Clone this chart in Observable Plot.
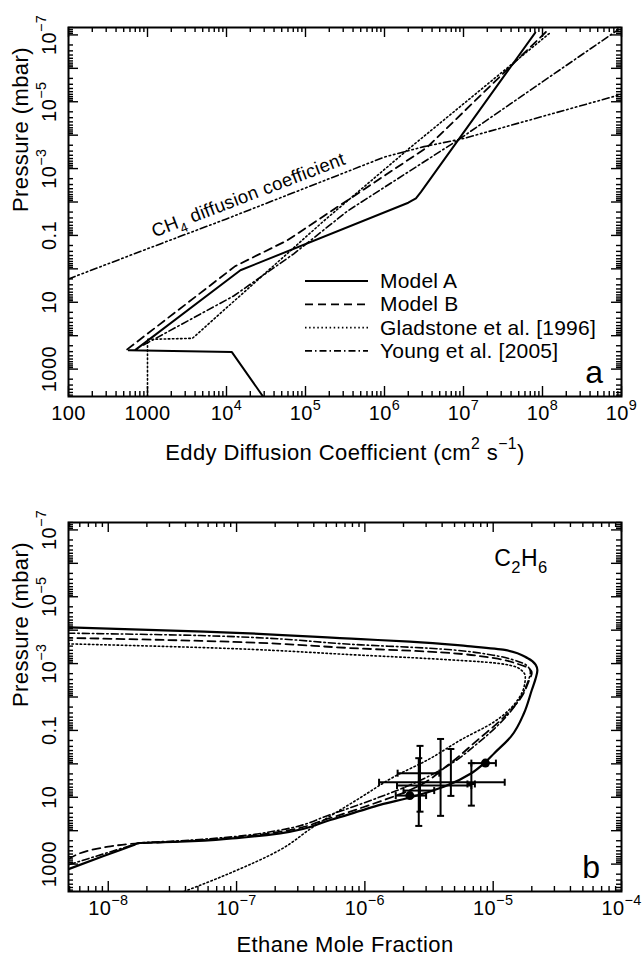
<!DOCTYPE html>
<html>
<head>
<meta charset="utf-8">
<script src="https://cdn.jsdelivr.net/npm/d3@7"></script>
<script src="https://cdn.jsdelivr.net/npm/@observablehq/plot@0.6"></script>
<style>
  html,body{margin:0;padding:0;background:#fff;}
  #chart{width:644px;height:957px;position:relative;overflow:hidden;background:#fff;}
  .panel{position:relative;width:644px;}
  .panel svg{display:block;}
  .overlay{position:absolute;left:0;top:0;pointer-events:none;}
</style>
</head>
<body>
<div id="chart">
  <div class="panel" id="panelA"></div>
  <div class="panel" id="panelB"></div>
</div>
<script>
// ================= DATA =================
// ---- Panel a: eddy diffusion coefficient K (cm^2 s^-1) vs pressure (mbar)
const modelA_K = [2.9e4, 1.17e4, 580, 690, 1.5e4, 2.0e6, 2.5e6, 2.9e6, 8.1e7];
const modelA_P = [6600, 310, 275, 275, 1.1, 0.0105, 0.0078, 0.005, 8.5e-8];

const modelB_K = [553, 1.29e4, 5.9e4, 3.47e6, 1.12e8];
const modelB_P = [257, 0.83, 0.14, 2.3e-4, 7.9e-8];

const glad_K = [1000, 1000, 3700, 1.7e5, 2.14e6, 1.26e8];
const glad_P = [6600, 129, 120, 0.037, 2.3e-4, 8.5e-8];

const young_K = [890, 1.23e4, 7.1e4, 3.4e5, 8.7e6, 8.9e8];
const young_P = [190, 6.5, 0.355, 0.0186, 1.35e-4, 7.2e-8];

const ch4_K = [100, 1e3, 1e4, 1e5, 1e6, 3.16e6, 1e7, 1e8, 1e9];
const ch4_P = [2.0, 0.25, 0.032, 0.0038, 4.5e-4, 2.2e-4, 1.26e-4, 2.75e-5, 6.0e-6];

// ---- Panel b: ethane mole fraction vs pressure (mbar)
const bA_X = [4.9e-9, 9.2e-9, 1.585e-8, 1.74e-8, 3.63e-8, 1e-7, 2.19e-7, 5.37e-7, 9.33e-7, 1.33e-6, 2.29e-6, 4.17e-6, 6.76e-6, 8.51e-6, 1.02e-5, 1.38e-5, 1.74e-5, 2.0e-5, 2.14e-5, 2.21e-5, 2.14e-5, 1.86e-5, 1.23e-5, 6.3e-6, 2.24e-6, 9.3e-7, 5.6e-8, 4.9e-9];
const bA_P = [1410, 575, 267, 234, 214, 166, 120, 47.9, 25.1, 16.6, 10, 4.79, 1.91, 0.955, 0.479, 0.151, 0.0302, 0.00617, 0.00282, 0.00158, 0.00107, 6.9e-4, 3.9e-4, 3.0e-4, 2.19e-4, 1.86e-4, 1.1e-4, 8.3e-5];

const bB_X = [4.9e-9, 1e-8, 1.74e-8, 3.63e-8, 1e-7, 2.19e-7, 5.37e-7, 9.33e-7, 2.57e-6, 4.47e-6, 7.59e-6, 1.23e-5, 1.66e-5, 1.91e-5, 2.0e-5, 1.91e-5, 1.55e-5, 1.02e-5, 3.09e-6, 9.33e-7, 5.25e-8, 4.9e-9];
const bB_P = [708, 302, 240, 209, 158, 107, 41.7, 20.9, 4.79, 1.07, 0.191, 0.038, 0.01, 0.00309, 0.0019, 0.00141, 0.00102, 6.9e-4, 4.37e-4, 3.55e-4, 2.09e-4, 1.7e-4];

const bG_X = [3.9e-8, 8.9e-8, 2.19e-7, 3.98e-7, 9.33e-7, 1.7e-6, 3.09e-6, 5.62e-6, 1.02e-5, 1.55e-5, 1.74e-5, 1.78e-5, 1.66e-5, 1.41e-5, 1e-5, 3.16e-6, 9.33e-7, 5.25e-8, 4.9e-9];
const bG_P = [6600, 1860, 372, 75.9, 10, 2.4, 0.76, 0.19, 0.055, 0.0123, 0.005, 0.00245, 0.00158, 0.00117, 9.5e-4, 7.1e-4, 5.6e-4, 3.3e-4, 2.57e-4];

const bY_X = [4.9e-9, 9.2e-9, 1.585e-8, 1.74e-8, 3.63e-8, 1e-7, 2.19e-7, 5.37e-7, 9.33e-7, 2.29e-6, 4.47e-6, 7.59e-6, 1.12e-5, 1.58e-5, 1.86e-5, 1.95e-5, 1.82e-5, 1.41e-5, 1e-5, 3.16e-6, 9.33e-7, 5.25e-8, 4.9e-9];
const bY_P = [1050, 495, 261, 234, 200, 148, 95.5, 33.1, 15.8, 4.17, 1.12, 0.24, 0.063, 0.0126, 0.00355, 0.00178, 0.00112, 7.6e-4, 5.6e-4, 3.47e-4, 2.75e-4, 1.45e-4, 1.23e-4];

// observations: filled circles (x error only)
const circ_X   = [8.7e-6, 2.24e-6];
const circ_P   = [0.95, 8.9];
const circ_Xlo = [6.76e-6, 1.74e-6];
const circ_Xhi = [1.05e-5, 3.0e-6];

// observations with x and pressure error bars
const obs_X   = [2.63e-6, 2.69e-6, 3.89e-6, 4.68e-6, 6.76e-6];
const obs_P   = [6.3, 1.9, 3.55, 4.47, 4.0];
const obs_Xlo = [2.0e-6, 1.8e-6, 1.29e-6, 1.78e-6, 6.3e-6];
const obs_Xhi = [3.47e-6, 3.8e-6, 1.23e-5, 6.76e-6, 7.2e-6];
const obs_Plo = [0.676, 0.29, 0.18, 0.36, 0.955];
const obs_Phi = [72, 27, 36, 9.1, 17.8];

// ---- axes: ticks and tick labels
const kTicks = [1e2, 1e3, 1e4, 1e5, 1e6, 1e7, 1e8, 1e9];
const kTickLabels = ["100", "1000", "10⁴", "10⁵", "10⁶", "10⁷", "10⁸", "10⁹"];
const pTicks = [1e-7, 1e-5, 1e-3, 0.1, 10, 1000];
const pTickLabels = ["10⁻⁷", "10⁻⁵", "10⁻³", "0.1", "10", "1000"];
const xTicks = [1e-8, 1e-7, 1e-6, 1e-5, 1e-4];
const xTickLabels = ["10⁻⁸", "10⁻⁷", "10⁻⁶", "10⁻⁵", "10⁻⁴"];

const kDomain = [100, 1e9];
const xDomain = [4.9e-9, 1e-4];
const pDomain = [6600, 6.0e-8];

const titleA = "Eddy Diffusion Coefficient (cm² s⁻¹)";
const titleB = "Ethane Mole Fraction";
const titleY = "Pressure (mbar)";
const legendNames = ["Model A", "Model B", "Gladstone et al. [1996]", "Young et al. [2005]"];

// ================= STYLE / LAYOUT =================
const FONT = '"Liberation Sans", Arial, Helvetica, sans-serif';
const W = 644;
const dashes = {A: null, B: "8,5", G: "1.5,2.6", Y: "7,3,1.5,3", CH4: "7,3,1.5,3,1.5,3,1.5,3"};
const MAJOR = 10, MINOR = 5;

function zip(xs, ys, kx, ky) { return xs.map((v, i) => ({[kx]: v, [ky]: ys[i]})); }
function logTicks([a, b]) {
  const lo = Math.min(a, b), hi = Math.max(a, b), out = [];
  for (let e = Math.floor(Math.log10(lo)) - 1; e <= Math.ceil(Math.log10(hi)); e++)
    for (let m = 1; m < 10; m++) {
      const v = +(m + "e" + e);
      if (v >= lo * 0.9999 && v <= hi * 1.0001) out.push({v, major: m === 1});
    }
  return out;
}
function frameTickMarks(xDom, yDom, innerW, innerH) {
  const xt = logTicks(xDom), yt = logTicks(yDom);
  const xMaj = xt.filter(d => d.major), xMin = xt.filter(d => !d.major);
  const yMaj = yt.filter(d => d.major), yMin = yt.filter(d => !d.major);
  const sw = 1.4;
  return [
    Plot.tickX(xMaj, {x: "v", insetTop: innerH - MAJOR, strokeWidth: sw}),
    Plot.tickX(xMin, {x: "v", insetTop: innerH - MINOR, strokeWidth: sw}),
    Plot.tickX(xMaj, {x: "v", insetBottom: innerH - MAJOR, strokeWidth: sw}),
    Plot.tickX(xMin, {x: "v", insetBottom: innerH - MINOR, strokeWidth: sw}),
    Plot.tickY(yMaj, {y: "v", insetRight: innerW - MAJOR, strokeWidth: sw}),
    Plot.tickY(yMin, {y: "v", insetRight: innerW - MINOR, strokeWidth: sw}),
    Plot.tickY(yMaj, {y: "v", insetLeft: innerW - MAJOR, strokeWidth: sw}),
    Plot.tickY(yMin, {y: "v", insetLeft: innerW - MINOR, strokeWidth: sw})
  ];
}
const capV = {draw(ctx, size) { const r = Math.sqrt(size / Math.PI); ctx.moveTo(0, -r); ctx.lineTo(0, r); }};
const capH = {draw(ctx, size) { const r = Math.sqrt(size / Math.PI); ctx.moveTo(-r, 0); ctx.lineTo(r, 0); }};

function lineMark(data, x, y, dash, w, curve = "linear") {
  return Plot.line(data, {x, y, stroke: "black", strokeWidth: w, strokeDasharray: dash, clip: true, curve});
}

// turn unicode super/subscripts into real raised/lowered tspans (text stays text)
const SUP = {"⁰":"0","¹":"1","²":"2","³":"3","⁴":"4","⁵":"5","⁶":"6","⁷":"7","⁸":"8","⁹":"9","⁻":"−"};
const SUB = {"₀":"0","₁":"1","₂":"2","₃":"3","₄":"4","₅":"5","₆":"6","₇":"7","₈":"8","₉":"9"};
function richText(root, supSize = 0.72, supShift = 0.48, subShift = 0.32) {
  root.querySelectorAll("text").forEach(t => {
    if (t.children.length) return;
    const s = t.textContent;
    if (![...s].some(c => SUP[c] || SUB[c])) return;
    const runs = [];
    for (const c of s) {
      const kind = SUP[c] ? "sup" : SUB[c] ? "sub" : "n";
      const ch = SUP[c] || SUB[c] || c;
      if (runs.length && runs[runs.length - 1].kind === kind) runs[runs.length - 1].s += ch;
      else runs.push({kind, s: ch});
    }
    t.textContent = "";
    let shift = 0;
    const ns = "http://www.w3.org/2000/svg";
    const fs = parseFloat(getComputedStyle(t).fontSize) || 20;
    for (const r of runs) {
      const sp = document.createElementNS(ns, "tspan");
      const target = r.kind === "sup" ? -supShift : r.kind === "sub" ? subShift : 0;
      const d = (target - shift) * fs;
      if (d) sp.setAttribute("dy", d.toFixed(2));
      shift = target;
      if (r.kind !== "n") sp.setAttribute("font-size", (fs * supSize).toFixed(2));
      sp.textContent = r.s;
      t.appendChild(sp);
    }
  });
}

const kLabel = new Map(kTicks.map((t, i) => [t, kTickLabels[i]]));
const pLabel = new Map(pTicks.map((t, i) => [t, pTickLabels[i]]));
const xLabel = new Map(xTicks.map((t, i) => [t, xTickLabels[i]]));

function axesFor(ticks, labels, title, titleDy) {
  return [
    Plot.axisX({ticks, tickFormat: d => labels.get(d), tickSize: 0, tickPadding: 9, fontSize: 20, label: null}),
    Plot.axisY({ticks: pTicks, tickFormat: d => pLabel.get(d), tickSize: 0, tickRotate: -90, tickPadding: 13, fontSize: 20, label: null}),
    Plot.text([title], {frameAnchor: "bottom", dy: titleDy, fontSize: 22, lineAnchor: "middle"}),
    Plot.text([titleY], {frameAnchor: "left", dx: -48, rotate: -90, fontSize: 22, lineAnchor: "middle"})
  ];
}

// ================= PANEL A =================
const mA = {top: 27, right: 23, bottom: 84, left: 68}, hA = 480;
const innerWA = W - mA.left - mA.right, innerHA = hA - mA.top - mA.bottom;
const ch4Label = [{K: 1.9e4, P: 0.0174, text: "CH₄ diffusion coefficient"}];

const plotA = Plot.plot({
  width: W, height: hA,
  marginTop: mA.top, marginRight: mA.right, marginBottom: mA.bottom, marginLeft: mA.left,
  style: {fontFamily: FONT, fontSize: "21px", background: "#fff", color: "#000", letterSpacing: "0.4px", overflow: "visible"},
  x: {type: "log", domain: kDomain},
  y: {type: "log", domain: pDomain},
  marks: [
    ...frameTickMarks(kDomain, pDomain, innerWA, innerHA),
    ...axesFor(kTicks, kLabel, titleA, 56),
    lineMark(zip(ch4_K, ch4_P, "K", "P"), "K", "P", dashes.CH4, 1.6),
    lineMark(zip(glad_K, glad_P, "K", "P"), "K", "P", dashes.G, 1.6),
    lineMark(zip(young_K, young_P, "K", "P"), "K", "P", dashes.Y, 1.6),
    lineMark(zip(modelB_K, modelB_P, "K", "P"), "K", "P", dashes.B, 1.8),
    lineMark(zip(modelA_K, modelA_P, "K", "P"), "K", "P", dashes.A, 2),
    Plot.text(ch4Label, {x: "K", y: "P", text: "text", rotate: -21, dy: -15, fontSize: 18.5}),
    Plot.text(["a"], {frameAnchor: "bottom-right", dx: -18, dy: -14, textAnchor: "end", lineAnchor: "bottom", fontSize: 32}),
    Plot.frame({stroke: "black", strokeWidth: 2})
  ]
});
document.getElementById("panelA").appendChild(plotA);
richText(plotA);

// legend overlay for panel a
(function () {
  const svg = d3.select("#panelA").append("svg").attr("class", "overlay")
    .attr("width", W).attr("height", hA);
  const dashList = [dashes.A, dashes.B, dashes.G, dashes.Y];
  const x0 = 305, x1 = 368, y0 = 281, dy = 23.3;
  legendNames.forEach((name, i) => {
    const y = y0 + i * dy;
    svg.append("line").attr("x1", x0).attr("x2", x1).attr("y1", y).attr("y2", y)
      .attr("stroke", "black").attr("stroke-width", i === 0 ? 2 : 1.7)
      .attr("stroke-dasharray", dashList[i]);
    svg.append("text").attr("x", 380).attr("y", y + 7).text(name)
      .attr("font-family", FONT).attr("font-size", 21).attr("letter-spacing", "0.2px").attr("fill", "black");
  });
})();

// ================= PANEL B =================
const mB = {top: 42, right: 23, bottom: 66, left: 68}, hB = 477;
const innerWB = W - mB.left - mB.right, innerHB = hB - mB.top - mB.bottom;

const circ = circ_X.map((x, i) => ({x, p: circ_P[i], xlo: circ_Xlo[i], xhi: circ_Xhi[i]}));
const obs = obs_X.map((x, i) => ({x, p: obs_P[i], xlo: obs_Xlo[i], xhi: obs_Xhi[i], plo: obs_Plo[i], phi: obs_Phi[i]}));
const cm = "monotone-y";

const plotB = Plot.plot({
  width: W, height: hB,
  marginTop: mB.top, marginRight: mB.right, marginBottom: mB.bottom, marginLeft: mB.left,
  style: {fontFamily: FONT, fontSize: "21px", background: "#fff", color: "#000", letterSpacing: "0.4px", overflow: "visible"},
  x: {type: "log", domain: xDomain},
  y: {type: "log", domain: pDomain},
  marks: [
    ...frameTickMarks(xDomain, pDomain, innerWB, innerHB),
    ...axesFor(xTicks, xLabel, titleB, 53),
    lineMark(zip(bG_X, bG_P, "x", "p"), "x", "p", dashes.G, 1.6, cm),
    lineMark(zip(bY_X, bY_P, "x", "p"), "x", "p", dashes.Y, 1.6, cm),
    lineMark(zip(bB_X, bB_P, "x", "p"), "x", "p", dashes.B, 1.8, cm),
    lineMark(zip(bA_X, bA_P, "x", "p"), "x", "p", dashes.A, 2.2, cm),
    // error bars
    Plot.link(obs, {x1: "xlo", x2: "xhi", y1: "p", y2: "p", stroke: "black", strokeWidth: 2}),
    Plot.link(obs, {x1: "x", x2: "x", y1: "plo", y2: "phi", stroke: "black", strokeWidth: 2}),
    Plot.dot(obs, {x: "xlo", y: "p", symbol: capV, r: 3.5, stroke: "black", strokeWidth: 2}),
    Plot.dot(obs, {x: "xhi", y: "p", symbol: capV, r: 3.5, stroke: "black", strokeWidth: 2}),
    Plot.dot(obs, {x: "x", y: "plo", symbol: capH, r: 3.5, stroke: "black", strokeWidth: 2}),
    Plot.dot(obs, {x: "x", y: "phi", symbol: capH, r: 3.5, stroke: "black", strokeWidth: 2}),
    Plot.link(circ, {x1: "xlo", x2: "xhi", y1: "p", y2: "p", stroke: "black", strokeWidth: 2}),
    Plot.dot(circ, {x: "xlo", y: "p", symbol: capV, r: 3.5, stroke: "black", strokeWidth: 2}),
    Plot.dot(circ, {x: "xhi", y: "p", symbol: capV, r: 3.5, stroke: "black", strokeWidth: 2}),
    Plot.dot(circ, {x: "x", y: "p", r: 4.5, fill: "black", stroke: "none"}),
    Plot.text(["C₂H₆"], {frameAnchor: "top-right", dx: -74, dy: 27, textAnchor: "end", fontSize: 23}),
    Plot.text(["b"], {frameAnchor: "bottom-right", dx: -21, dy: -14, textAnchor: "end", lineAnchor: "bottom", fontSize: 32}),
    Plot.frame({stroke: "black", strokeWidth: 2})
  ]
});
document.getElementById("panelB").appendChild(plotB);
richText(plotB);
</script>
</body>
</html>
